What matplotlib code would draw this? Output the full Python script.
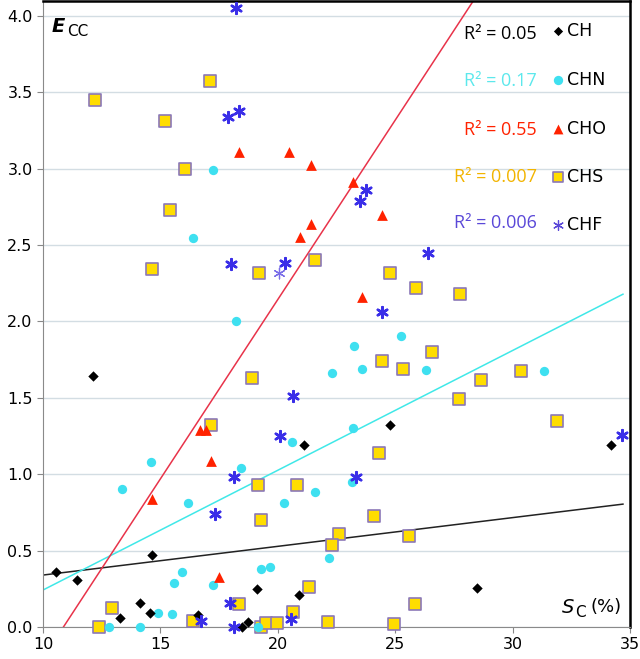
import matplotlib
matplotlib.use("Agg")
import matplotlib.pyplot as plt
import numpy as np

# ---- data ----
ch_x = [10.55, 11.44, 12.12, 13.26, 14.11, 14.54, 14.64, 16.6, 18.48, 18.73, 19.11, 20.92, 21.13, 24.77, 28.5, 34.2]
ch_y = [0.36, 0.31, 1.64, 0.057, 0.155, 0.094, 0.47, 0.078, 0.0, 0.03, 0.25, 0.21, 1.19, 1.32, 0.257, 1.19]

chn_x = [13.36, 14.6, 12.79, 14.14, 14.89, 15.49, 15.59, 15.92, 16.16, 17.22, 18.43, 19.29, 19.66, 19.17,
         20.25, 20.61, 21.6, 17.24, 16.37, 18.2, 25.23, 23.24, 22.29, 23.6, 26.3, 31.32, 23.21, 23.17, 22.17]
chn_y = [0.906, 1.08, 0.0, 0.0, 0.09, 0.083, 0.285, 0.357, 0.81, 0.274, 1.04, 0.377, 0.394, 0.0,
         0.81, 1.21, 0.884, 2.99, 2.545, 2.0, 1.908, 1.84, 1.66, 1.69, 1.68, 1.675, 1.305, 0.95, 0.45]

cho_x = [18.33, 20.47, 21.42, 20.94, 21.42, 23.2, 24.42, 23.57, 14.64, 16.67, 16.94, 17.17, 17.48]
cho_y = [3.107, 3.107, 3.026, 2.55, 2.64, 2.91, 2.70, 2.16, 0.84, 1.29, 1.29, 1.085, 0.33]

chs_x = [12.22, 15.18, 17.1, 16.06, 15.39, 14.64, 19.22, 21.6, 24.76, 25.87, 27.75, 18.9, 17.17, 19.16,
         20.8, 19.3, 12.4, 12.93, 16.39, 18.36, 19.29, 19.51, 19.97, 20.64, 21.32, 24.45, 25.33, 26.55,
         28.66, 30.35, 27.7, 31.88, 24.3, 24.09, 22.6, 22.32, 25.58, 25.84, 22.13, 24.97]
chs_y = [3.45, 3.31, 3.575, 2.998, 2.73, 2.345, 2.316, 2.405, 2.32, 2.22, 2.18, 1.63, 1.32, 0.928,
         0.928, 0.70, 0.0, 0.122, 0.039, 0.15, 0.0, 0.024, 0.024, 0.1, 0.263, 1.74, 1.69, 1.80,
         1.62, 1.675, 1.49, 1.35, 1.14, 0.725, 0.608, 0.54, 0.597, 0.15, 0.035, 0.018]

chf_x = [18.23, 17.9, 18.33, 18.02, 20.3, 23.74, 23.52, 26.41, 24.42, 20.64, 20.08, 18.12, 17.31,
         16.74, 17.98, 18.12, 20.58, 23.31, 34.66]
chf_y = [4.05, 3.34, 3.38, 2.377, 2.384, 2.86, 2.79, 2.45, 2.06, 1.51, 1.248, 0.98, 0.737,
         0.04, 0.16, 0.0, 0.05, 0.98, 1.26]
chf_thin_x = [20.04]
chf_thin_y = [2.32]

# linear trend lines (slope, intercept at x=0)
ch_fit = (0.0188, 0.34 - 0.0188 * 10)
chn_fit = (0.0784, 0.242 - 0.0784 * 10)
cho_fit = (0.2348, -0.2348 * 10.87)

r2_labels = ["R² = 0.05", "R² = 0.17", "R² = 0.55", "R² = 0.007", "R² = 0.006"]
series_names = ["CH", "CHN", "CHO", "CHS", "CHF"]

# ---- style ----
c_ch = "black"
c_chn = "#3ee0f0"
c_cho = "#ff2200"
c_chs_face = "#ffdd00"
c_chs_edge = "#8b78b8"
c_chf = "#3a2ee8"
line_cho = "#e8334a"
line_chn = "#40e8e8"
r2_colors = ["black", "#5ce8ec", "#ff2200", "#f2b400", "#5a48d8"]

fig = plt.figure(figsize=(6.40, 6.59), dpi=100)
ax = fig.add_axes([43 / 640, (659 - 627) / 659, (630 - 43) / 640, 627 / 659 - 0.001])

ax.set_xlim(10, 35)
ax.set_ylim(0, 4.1)
ax.set_yticks(np.arange(0, 4.01, 0.5))
ax.set_xticks([10, 15, 20, 25, 30, 35])
ax.yaxis.set_major_formatter(matplotlib.ticker.FormatStrFormatter("%.1f"))
ax.grid(axis="y", color="#d3dde3", lw=1.0)
ax.set_axisbelow(True)
ax.tick_params(labelsize=11.5, length=4, color="#888888", labelcolor="black")
for s in ["left", "bottom"]:
    ax.spines[s].set_color("#8a8a8a")
for s in ["right", "top"]:
    ax.spines[s].set_color("black")
    ax.spines[s].set_linewidth(1.8)

# trend lines
xx = np.array([10.0, 34.7])
ax.plot(xx, ch_fit[0] * xx + ch_fit[1], color="#222222", lw=1.1, zorder=2)
ax.plot(xx, chn_fit[0] * xx + chn_fit[1], color=line_chn, lw=1.1, zorder=2)
x0 = -cho_fit[1] / cho_fit[0]
xr = np.array([x0, 30.0])
ax.plot(xr, cho_fit[0] * xr + cho_fit[1], color=line_cho, lw=1.1, zorder=2)

ax.scatter(chs_x, chs_y, marker="s", s=72, facecolor=c_chs_face, edgecolor=c_chs_edge, lw=1.2, zorder=3,
           clip_on=False)
ax.scatter(chn_x, chn_y, marker="o", s=45, color=c_chn, lw=0, zorder=4, clip_on=False)
ax.scatter(ch_x, ch_y, marker="D", s=28, color=c_ch, lw=0, zorder=5, clip_on=False)
ax.scatter(cho_x, cho_y, marker="^", s=60, color=c_cho, lw=0, zorder=5, clip_on=False)
ax.scatter(chf_x, chf_y, marker=(6, 2, 0), s=60, color=c_chf, lw=1.8, zorder=6, clip_on=False)
ax.scatter(chf_thin_x, chf_thin_y, marker=(6, 2, 0), s=60, color="#7a6ee8", lw=0.9, zorder=6)

# legend-like annotations (pixel positions converted to axes fraction)
W = 630 - 43
H = 627.0
def ax_xy(px, py):
    return ((px - 43) / W, (627 - py) / H)

rows_y = [30, 79, 128, 177, 225]
r2_y = [33, 80, 129, 177, 223]
markers = [("D", c_ch, 22, None), ("o", c_chn, 45, None), ("^", c_cho, 50, None),
           ("s", c_chs_face, 55, c_chs_edge), ("x", "#5a48d8", 50, None)]
for i in range(5):
    tx, ty = ax_xy(537, r2_y[i])
    ax.text(tx, ty, r2_labels[i], transform=ax.transAxes, ha="right", va="center",
            fontsize=13, color=r2_colors[i], family="Open Sans")
    mx, my = ax_xy(558, rows_y[i])
    m, c, s, ec = markers[i]
    if ec is not None:
        ax.scatter([mx], [my], marker=m, s=s, facecolor=c, edgecolor=ec, lw=1.2,
                   transform=ax.transAxes, clip_on=False, zorder=7)
    elif m == "x":
        ax.scatter([mx], [my], marker=(6, 2, 0), s=s, color=c, lw=0.9,
                   transform=ax.transAxes, clip_on=False, zorder=7)
    else:
        ax.scatter([mx], [my], marker=m, s=s, color=c, lw=0,
                   transform=ax.transAxes, clip_on=False, zorder=7)
    lx, ly = ax_xy(567, rows_y[i])
    ax.text(lx, ly, series_names[i], transform=ax.transAxes, ha="left", va="center",
            fontsize=12.5, color="black")

# axis labels inside plot
ex, ey = ax_xy(52, 26)
ax.text(ex, ey, "E", transform=ax.transAxes, fontsize=14, fontweight="bold",
        style="italic", ha="left", va="center")
cx, cy = ax_xy(67, 31)
ax.text(cx, cy, "CC", transform=ax.transAxes, fontsize=11, ha="left", va="center")

sx, sy = ax_xy(562, 607)
ax.text(sx, sy, "S", transform=ax.transAxes, fontsize=14, style="italic", ha="left", va="center")
scx, scy = ax_xy(575, 612)
ax.text(scx, scy, "C", transform=ax.transAxes, fontsize=11, ha="left", va="center")
px_, py_ = ax_xy(591, 607)
ax.text(px_, py_, "(%)", transform=ax.transAxes, fontsize=13, ha="left", va="center")

fig.savefig("out.png", dpi=100)
